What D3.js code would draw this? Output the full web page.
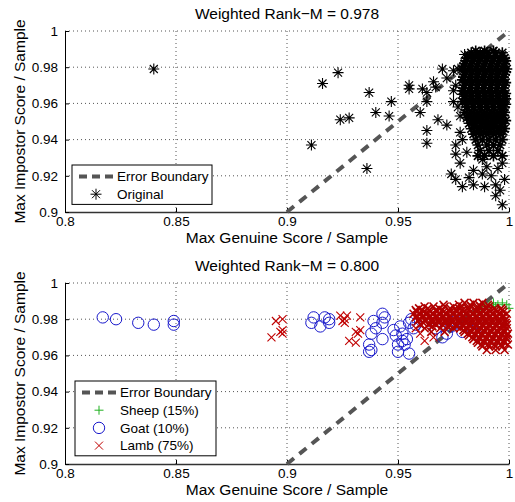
<!DOCTYPE html>
<html>
<head>
<meta charset="utf-8">
<script src="https://cdn.jsdelivr.net/npm/d3@7"></script>
<style>
  body { margin: 0; background: #fff; }
  svg { display: block; font-family: "Liberation Sans", Arial, Helvetica, sans-serif; }
</style>
</head>
<body>
<div class="chart"></div>
<script>
// axis setup
const xTicks = [0.8, 0.85, 0.9, 0.95, 1];
const yTicks = [0.9, 0.92, 0.94, 0.96, 0.98, 1];
const xTickLabels = ["0.8", "0.85", "0.9", "0.95", "1"];
const yTickLabels = ["0.9", "0.92", "0.94", "0.96", "0.98", "1"];
const titles = ["Weighted Rank\u2212M = 0.978", "Weighted Rank\u2212M = 0.800"];
const xLabel = "Max Genuine Score / Sample";
const yLabel = "Max Impostor Score / Sample";
const boundary = [[0.9, 0.9], [1, 1]];

// top panel: original scores (scattered ones)
const origSparse = [
  [0.840, 0.979], [0.911, 0.937], [0.916, 0.971], [0.923, 0.977], [0.924, 0.951],
  [0.928, 0.952], [0.936, 0.924], [0.937, 0.966], [0.940, 0.955], [0.946, 0.953],
  [0.947, 0.961], [0.955, 0.970], [0.955, 0.968], [0.960, 0.955], [0.961, 0.968],
  [0.963, 0.966], [0.963, 0.961], [0.963, 0.945], [0.963, 0.938], [0.966, 0.972],
  [0.967, 0.969], [0.968, 0.951], [0.970, 0.979], [0.972, 0.974], [0.972, 0.948],
  [0.975, 0.967], [0.975, 0.961], [0.976, 0.937], [0.976, 0.932], [0.977, 0.979],
  [0.978, 0.927], [0.974, 0.921], [0.976, 0.918], [0.979, 0.914], [0.982, 0.919],
  [0.984, 0.915], [0.989, 0.914], [0.994, 0.915], [0.996, 0.912], [0.994, 0.909],
  [0.997, 0.904], [0.981, 0.933], [0.984, 0.923], [0.988, 0.921], [0.990, 0.925],
  [0.995, 0.924], [0.992, 0.920], [0.988, 0.929], [0.997, 0.927], [0.998, 0.918],
  [0.980, 0.987], [0.975, 0.978], [0.976, 0.970], [0.977, 0.958], [0.978, 0.944],
  [0.979, 0.940], [0.978, 0.953], [0.979, 0.965]
];
// top panel: dense cluster, one row per impostor score
const origBlobRows = [
  [0.989, [0.985, 0.989, 0.993]],
  [0.988, [0.983, 0.987, 0.990, 0.994, 0.997]],
  [0.9865, [0.982, 0.985, 0.988, 0.991, 0.994, 0.997]],
  [0.985, [0.981, 0.984, 0.987, 0.990, 0.993, 0.996, 0.998]],
  [0.9835, [0.9805, 0.9835, 0.9865, 0.9895, 0.9925, 0.9955, 0.9985]],
  [0.982, [0.980, 0.983, 0.986, 0.989, 0.992, 0.995, 0.998]],
  [0.9805, [0.9795, 0.9825, 0.9855, 0.9885, 0.9915, 0.9945, 0.9975]],
  [0.979, [0.979, 0.982, 0.985, 0.988, 0.991, 0.994, 0.997, 0.999]],
  [0.9775, [0.9805, 0.9835, 0.9865, 0.9895, 0.9925, 0.9955, 0.9985]],
  [0.976, [0.980, 0.983, 0.986, 0.989, 0.992, 0.995, 0.998]],
  [0.9745, [0.9795, 0.9825, 0.9855, 0.9885, 0.9915, 0.9945, 0.9975]],
  [0.973, [0.979, 0.982, 0.985, 0.988, 0.991, 0.994, 0.997]],
  [0.9715, [0.9805, 0.9835, 0.9865, 0.9895, 0.9925, 0.9955, 0.9985]],
  [0.970, [0.980, 0.983, 0.986, 0.989, 0.992, 0.995, 0.998]],
  [0.9685, [0.9795, 0.9825, 0.9855, 0.9885, 0.9915, 0.9945, 0.9975]],
  [0.967, [0.979, 0.982, 0.985, 0.988, 0.991, 0.994, 0.997]],
  [0.9655, [0.9805, 0.9835, 0.9865, 0.9895, 0.9925, 0.9955, 0.9985]],
  [0.964, [0.980, 0.983, 0.986, 0.989, 0.992, 0.995, 0.998]],
  [0.9625, [0.9805, 0.9835, 0.9865, 0.9895, 0.9925, 0.9955, 0.9985]],
  [0.961, [0.979, 0.982, 0.985, 0.988, 0.991, 0.994, 0.997]],
  [0.9595, [0.9805, 0.9835, 0.9865, 0.9895, 0.9925, 0.9955, 0.9985]],
  [0.958, [0.981, 0.984, 0.987, 0.990, 0.993, 0.996, 0.998]],
  [0.9565, [0.9815, 0.9845, 0.9875, 0.9905, 0.9935, 0.9965]],
  [0.955, [0.980, 0.983, 0.986, 0.989, 0.992, 0.995, 0.998]],
  [0.9535, [0.9825, 0.9855, 0.9885, 0.9915, 0.9945, 0.9975]],
  [0.952, [0.981, 0.984, 0.987, 0.990, 0.993, 0.996]],
  [0.9505, [0.9835, 0.9865, 0.9895, 0.9925, 0.9955, 0.9985]],
  [0.949, [0.982, 0.985, 0.988, 0.991, 0.994, 0.997]],
  [0.9475, [0.9845, 0.9875, 0.9905, 0.9935, 0.9965]],
  [0.946, [0.983, 0.986, 0.989, 0.992, 0.995, 0.998]],
  [0.9445, [0.9855, 0.9885, 0.9915, 0.9945, 0.9975]],
  [0.943, [0.984, 0.987, 0.990, 0.993, 0.996]],
  [0.940, [0.985, 0.988, 0.991, 0.994, 0.997]],
  [0.937, [0.986, 0.990, 0.993, 0.996]],
  [0.934, [0.987, 0.991, 0.995]],
  [0.931, [0.986, 0.989, 0.993, 0.997]]
];

// bottom panel: sheep / goat / lamb
const sheepPts = [
  [0.985, 0.984], [0.987, 0.986], [0.989, 0.987], [0.991, 0.988], [0.993, 0.989],
  [0.995, 0.988], [0.997, 0.989], [0.999, 0.988], [1.000, 0.986], [0.994, 0.987]
];
const goatPts = [
  [0.817, 0.981], [0.823, 0.980], [0.833, 0.978], [0.840, 0.977], [0.849, 0.979],
  [0.849, 0.977], [0.911, 0.978], [0.912, 0.981], [0.915, 0.976], [0.917, 0.981],
  [0.919, 0.980], [0.919, 0.978], [0.937, 0.966], [0.937, 0.962], [0.938, 0.963],
  [0.938, 0.972], [0.939, 0.979], [0.940, 0.975], [0.943, 0.983], [0.944, 0.981],
  [0.943, 0.978], [0.943, 0.969], [0.948, 0.974], [0.949, 0.971], [0.950, 0.966],
  [0.950, 0.962], [0.951, 0.976], [0.952, 0.972], [0.952, 0.968], [0.953, 0.966],
  [0.954, 0.969], [0.955, 0.961], [0.955, 0.978], [0.956, 0.980], [0.957, 0.975],
  [0.958, 0.977], [0.967, 0.975], [0.968, 0.979], [0.970, 0.970], [0.972, 0.972],
  [0.974, 0.976], [0.976, 0.979], [0.979, 0.973], [0.981, 0.976], [0.985, 0.972],
  [0.986, 0.978]
];
const lambSparse = [
  [0.893, 0.970], [0.895, 0.979], [0.898, 0.980], [0.898, 0.974], [0.898, 0.972],
  [0.897, 0.973], [0.924, 0.982], [0.926, 0.978], [0.926, 0.980], [0.927, 0.982],
  [0.925, 0.979], [0.933, 0.981], [0.931, 0.973], [0.933, 0.974], [0.932, 0.972],
  [0.928, 0.968], [0.931, 0.967], [0.960, 0.972], [0.962, 0.968], [0.958, 0.975],
  [0.966, 0.970]
];
const lambBlobRows = [
  [0.989, [0.980, 0.984, 0.988]],
  [0.988, [0.9705, 0.9775, 0.9825, 0.9865, 0.9905]],
  [0.987, [0.962, 0.966, 0.971, 0.975, 0.979, 0.983, 0.987, 0.991]],
  [0.986, [0.9595, 0.9635, 0.9685, 0.9735, 0.9775, 0.9815, 0.9855, 0.9895, 0.9935, 0.9965]],
  [0.985, [0.958, 0.961, 0.964, 0.967, 0.970, 0.973, 0.976, 0.979, 0.982, 0.985, 0.988, 0.991, 0.994, 0.997]],
  [0.984, [0.9585, 0.9615, 0.9645, 0.9675, 0.9705, 0.9735, 0.9765, 0.9795, 0.9825, 0.9855, 0.9885, 0.9915, 0.9945, 0.9975]],
  [0.983, [0.957, 0.960, 0.963, 0.966, 0.969, 0.972, 0.975, 0.978, 0.981, 0.984, 0.987, 0.990, 0.993, 0.996, 0.999]],
  [0.982, [0.9585, 0.9615, 0.9645, 0.9675, 0.9705, 0.9735, 0.9765, 0.9795, 0.9825, 0.9855, 0.9885, 0.9915, 0.9945, 0.9975]],
  [0.981, [0.958, 0.961, 0.964, 0.967, 0.970, 0.973, 0.976, 0.979, 0.982, 0.985, 0.988, 0.991, 0.994, 0.997]],
  [0.980, [0.9595, 0.9625, 0.9655, 0.9685, 0.9715, 0.9745, 0.9775, 0.9805, 0.9835, 0.9865, 0.9895, 0.9925, 0.9955, 0.9985]],
  [0.979, [0.959, 0.962, 0.965, 0.968, 0.971, 0.974, 0.977, 0.980, 0.983, 0.986, 0.989, 0.992, 0.995, 0.998]],
  [0.978, [0.9615, 0.9655, 0.9685, 0.9715, 0.9745, 0.9775, 0.9805, 0.9835, 0.9865, 0.9895, 0.9925, 0.9955, 0.9985]],
  [0.977, [0.960, 0.964, 0.967, 0.970, 0.973, 0.976, 0.979, 0.982, 0.985, 0.988, 0.991, 0.994, 0.997, 0.999]],
  [0.976, [0.9655, 0.9725, 0.9765, 0.9795, 0.9825, 0.9855, 0.9885, 0.9915, 0.9945, 0.9975]],
  [0.975, [0.962, 0.969, 0.975, 0.978, 0.981, 0.984, 0.987, 0.990, 0.993, 0.996, 0.999]],
  [0.974, [0.9795, 0.9825, 0.9855, 0.9885, 0.9915, 0.9945, 0.9975]],
  [0.973, [0.965, 0.971, 0.980, 0.983, 0.986, 0.989, 0.992, 0.995, 0.998]],
  [0.972, [0.9815, 0.9845, 0.9875, 0.9905, 0.9935, 0.9965, 0.9995]],
  [0.971, [0.982, 0.985, 0.988, 0.991, 0.994, 0.997, 0.999]],
  [0.970, [0.9835, 0.9865, 0.9895, 0.9925, 0.9955, 0.9985]],
  [0.969, [0.984, 0.987, 0.990, 0.993, 0.996, 0.999]],
  [0.968, [0.9855, 0.9885, 0.9915, 0.9945, 0.9975]],
  [0.967, [0.986, 0.989, 0.992, 0.995, 0.998]],
  [0.966, [0.9875, 0.9905, 0.9935, 0.9965, 0.9995]],
  [0.965, [0.988, 0.991, 0.994, 0.997]],
  [0.963, [0.990, 0.994, 0.998]]
];

const rowsToPts = rows => rows.flatMap(([y, xs]) => xs.map(x => [x, y]));

const width = 515, height = 502;
const lineColor = "#555";
const svg = d3.select(".chart").append("svg")
    .attr("width", width)
    .attr("height", height);

// marker shapes (path strings around 0,0)
const asterisk = (s, d) => `M${-s},0H${s}M0,${-s}V${s}M${-d},${-d}L${d},${d}M${-d},${d}L${d},${-d}`;
const cross = h => `M${-h},${-h}L${h},${h}M${-h},${h}L${h},${-h}`;
const plus = h => `M${-h},0H${h}M0,${-h}V${h}`;
const circle = d3.symbol().type(d3.symbolCircle).size(Math.PI * 5.7 * 5.7)();

function drawPanel(top, title) {
    const x = d3.scaleLinear().domain([0.8, 1]).range([65, 509]);
    const y = d3.scaleLinear().domain([0.9, 1]).range([top + 181, top]);
    const g = svg.append("g");

    // dotted grid
    g.selectAll(".gx").data(xTicks.slice(1)).enter().append("line")
        .attr("x1", d => x(d)).attr("x2", d => x(d))
        .attr("y1", y(0.9)).attr("y2", y(1))
        .attr("stroke", "#555").attr("stroke-dasharray", "1,3");
    g.selectAll(".gy").data(yTicks.slice(1)).enter().append("line")
        .attr("x1", x(0.8)).attr("x2", x(1))
        .attr("y1", d => y(d)).attr("y2", d => y(d))
        .attr("stroke", "#555").attr("stroke-dasharray", "1,3");

    // axes
    const xAxis = d3.axisBottom(x).tickValues(xTicks)
        .tickFormat((d, i) => xTickLabels[i])
        .tickSizeInner(-4).tickSizeOuter(0).tickPadding(4);
    const yAxis = d3.axisLeft(y).tickValues(yTicks)
        .tickFormat((d, i) => yTickLabels[i])
        .tickSizeInner(-4).tickSizeOuter(0).tickPadding(7);
    const ax = svg.append("g").attr("transform", `translate(0,${y(0.9)})`).call(xAxis);
    const ay = svg.append("g").attr("transform", `translate(${x(0.8)},0)`).call(yAxis);
    [ax, ay].forEach(a => {
        a.selectAll("text").style("font-size", "13.5px").attr("fill", "#000")
            .style("font-family", "'Liberation Sans', Arial, sans-serif");
        a.selectAll("line").attr("stroke", "#000");
        a.select(".domain").attr("stroke", "#000");
    });
    ax.select(".domain").attr("stroke-width", 1.5).attr("stroke", "#333");

    // title and labels
    svg.append("text")
        .attr("x", (x(0.8) + x(1)) / 2).attr("y", top - 12)
        .attr("text-anchor", "middle").style("font-size", "15.5px")
        .text(title);
    svg.append("text")
        .attr("x", (x(0.8) + x(1)) / 2).attr("y", y(0.9) + 31)
        .attr("text-anchor", "middle").style("font-size", "15.5px")
        .text(xLabel);
    svg.append("text")
        .attr("transform", `translate(25,${(y(0.9) + y(1)) / 2}) rotate(-90)`)
        .attr("text-anchor", "middle").style("font-size", "15.5px")
        .text(yLabel);

    return { g, x, y, layer: svg.append("g") };
}

function drawBoundary(p) {
    p.layer.append("path")
        .datum(boundary)
        .attr("d", d3.line().x(d => p.x(d[0])).y(d => p.y(d[1])))
        .attr("fill", "none")
        .attr("stroke", lineColor)
        .attr("stroke-width", 4)
        .attr("stroke-dasharray", "9,7");
}

function drawMarkers(p, pts, shape, color, sw) {
    p.layer.append("g").selectAll("path")
        .data(pts).enter().append("path")
        .attr("transform", d => `translate(${p.x(d[0])},${p.y(d[1])})`)
        .attr("d", shape)
        .attr("fill", "none")
        .attr("stroke", color)
        .attr("stroke-width", sw || 1);
}

function drawLegend(x0, y0, w, rows) {
    const lg = svg.append("g");
    lg.append("rect")
        .attr("x", x0).attr("y", y0).attr("width", w).attr("height", rows.length * 17.7 + 4)
        .attr("fill", "#fff").attr("stroke", "#000");
    rows.forEach((r, i) => {
        const cy = y0 + 11.5 + i * 17.7;
        if (r.line) {
            lg.append("line")
                .attr("x1", x0 + 7).attr("x2", x0 + 42).attr("y1", cy).attr("y2", cy)
                .attr("stroke", lineColor).attr("stroke-width", 4)
                .attr("stroke-dasharray", "8,5");
        } else {
            lg.append("path")
                .attr("transform", `translate(${x0 + 24},${cy})`)
                .attr("d", r.shape).attr("fill", "none")
                .attr("stroke", r.color).attr("stroke-width", 1);
        }
        lg.append("text")
            .attr("x", x0 + 45).attr("y", cy).attr("dy", "0.35em")
            .style("font-size", "13.5px")
            .text(r.label);
    });
}

// top panel
const p1 = drawPanel(31, titles[0]);
drawBoundary(p1);
drawMarkers(p1, origSparse, asterisk(5.5, 4), "#000", 1.1);
drawMarkers(p1, rowsToPts(origBlobRows), asterisk(5.5, 4), "#000", 1.6);
drawLegend(72, 165, 140, [
    { line: true, label: "Error Boundary" },
    { shape: asterisk(5.5, 4), color: "#000", label: "Original" }
]);

// bottom panel
const p2 = drawPanel(283, titles[1]);
drawBoundary(p2);
drawMarkers(p2, sheepPts, plus(4.5), "#1fb01f");
drawMarkers(p2, goatPts, circle, "#1a1acc");
drawMarkers(p2, lambSparse, cross(4), "#c00000", 1.1);
drawMarkers(p2, rowsToPts(lambBlobRows), cross(4), "#b00000", 1.6);
drawLegend(75, 381, 141, [
    { line: true, label: "Error Boundary" },
    { shape: plus(4.5), color: "#1fb01f", label: "Sheep (15%)" },
    { shape: circle, color: "#1a1acc", label: "Goat (10%)" },
    { shape: cross(4), color: "#c00000", label: "Lamb (75%)" }
]);
</script>
</body>
</html>
